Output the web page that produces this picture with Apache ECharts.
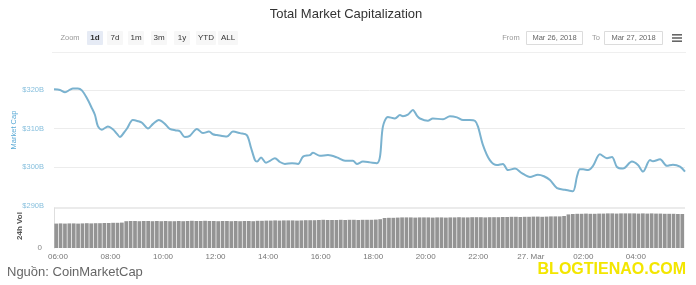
<!DOCTYPE html>
<html>
<head>
<meta charset="utf-8">
<title>Total Market Capitalization</title>
<script src="https://cdn.jsdelivr.net/npm/echarts@6/dist/echarts.min.js"></script>
<style>
  html, body { margin: 0; padding: 0; background: #fff; }
  #chart { width: 696px; height: 285px; }
</style>
</head>
<body>
<div id="chart"></div>
<script>
// time in hours since Mar 26 2018 00:00 (24 = 27 Mar 00:00)
const capTimes = [
  5.85, 6.08, 6.27, 6.46, 6.57, 6.76, 6.91, 7.10, 7.29, 7.41, 7.52, 7.67, 7.83, 7.90,
  8.09, 8.25, 8.36, 8.51, 8.63, 8.85, 9.05, 9.20, 9.43, 9.62, 9.84, 10.07, 10.26, 10.49,
  10.64, 10.83, 11.02, 11.29, 11.52, 11.75, 11.90, 12.05, 12.43, 12.66, 12.93, 13.19, 13.35,
  13.50, 13.58, 13.73, 13.92, 14.07, 14.26, 14.45, 14.64, 14.91, 15.14, 15.33, 15.59, 15.71,
  15.97, 16.28, 16.62, 16.93, 17.23, 17.38, 17.61, 17.88, 18.14, 18.26, 18.37, 18.56, 18.83,
  19.02, 19.13, 19.32, 19.51, 19.67, 19.78, 20.08, 20.27, 20.66, 20.92, 21.19, 21.42, 21.68,
  21.87, 21.99, 22.18, 22.44, 22.71, 22.94, 23.13, 23.40, 23.66, 23.97, 24.27, 24.50, 24.73,
  25.00, 25.30, 25.60, 25.76, 25.87, 25.99, 26.18, 26.37, 26.63, 26.90, 27.09, 27.28, 27.51,
  27.85, 28.08, 28.27, 28.54, 28.65, 28.92, 29.18, 29.41, 29.68, 29.87
]
// market cap, billions USD
const capValues = [
  320.2, 320.0, 319.4, 320.1, 320.4, 320.4, 319.9, 317.9, 315.3, 313.5, 310.6, 309.7, 310.3, 310.5,
  309.8, 308.6, 307.8, 308.9, 310.0, 312.2, 311.9, 311.5, 310.0, 311.2, 312.2, 311.2, 309.9, 309.5,
  309.3, 307.8, 308.1, 309.9, 308.8, 309.2, 308.5, 308.3, 307.9, 309.2, 308.8, 308.3, 305.0,
  301.8, 301.4, 302.5, 301.1, 301.6, 302.3, 301.3, 300.8, 301.0, 300.8, 302.7, 303.1, 303.7,
  302.9, 303.1, 302.5, 301.6, 301.6, 300.8, 301.4, 301.2, 301.0, 302.7, 310.5, 313.0, 312.6,
  313.5, 313.2, 313.6, 314.8, 313.3, 312.6, 312.0, 312.6, 312.4, 313.2, 312.9, 312.2, 312.2,
  312.0, 310.5, 305.7, 301.8, 300.5, 300.8, 299.2, 299.6, 298.4, 297.4, 298.0, 297.6, 296.6,
  294.5, 294.1, 293.7, 297.6, 299.4, 299.4, 299.2, 300.3, 303.3, 302.3, 302.6, 300.0, 299.6,
  301.4, 300.5, 298.8, 301.8, 301.5, 302.0, 300.3, 300.6, 300.1, 298.8
]
// 24h volume, billions USD, one bar per 10 minutes from 05:50
const volumes = [
  12.2, 12.3, 12.2, 12.3, 12.3, 12.2,
  12.3, 12.4, 12.3, 12.4, 12.4, 12.5,
  12.5, 12.6, 12.6, 12.7, 13.4, 13.5,
  13.5, 13.4, 13.5, 13.5, 13.4, 13.5,
  13.4, 13.5, 13.4, 13.4, 13.5, 13.4,
  13.5, 13.6, 13.5, 13.5, 13.6, 13.5,
  13.5, 13.4, 13.5, 13.5, 13.4, 13.5,
  13.4, 13.5, 13.5, 13.4, 13.6, 13.6,
  13.7, 13.7, 13.8, 13.7, 13.8, 13.8,
  13.8, 13.7, 13.8, 13.9, 13.9, 13.9,
  14.0, 14.1, 14.0, 14.0, 14.0, 14.1,
  14.0, 14.1, 14.1, 14.0, 14.1, 14.1,
  14.1, 14.2, 14.4, 15.0, 15.1, 15.1,
  15.2, 15.3, 15.3, 15.3, 15.2, 15.3,
  15.3, 15.3, 15.2, 15.3, 15.3, 15.2,
  15.3, 15.3, 15.4, 15.3, 15.3, 15.4,
  15.4, 15.4, 15.3, 15.4, 15.4, 15.4,
  15.5, 15.5, 15.6, 15.6, 15.5, 15.6,
  15.6, 15.7, 15.7, 15.6, 15.7, 15.8,
  15.8, 15.8, 16.0, 16.8, 17.0, 17.1,
  17.1, 17.2, 17.1, 17.1, 17.2, 17.2,
  17.3, 17.3, 17.2, 17.3, 17.3, 17.3,
  17.3, 17.2, 17.3, 17.2, 17.3, 17.2,
  17.2, 17.1, 17.1, 17.1, 17.0, 17.0
]
const xTicks = [6, 8, 10, 12, 14, 16, 18, 20, 22, 24, 26, 28]
const xTickLabels = ['06:00', '08:00', '10:00', '12:00', '14:00', '16:00', '18:00', '20:00', '22:00', '27. Mar', '02:00', '04:00']
const zoomButtons = ['1d', '7d', '1m', '3m', '1y', 'YTD', 'ALL']
const fromDate = 'Mar 26, 2018'
const toDate = 'Mar 27, 2018'

const xMin = 5.85
const xMax = 29.87
const volStart = 5.85
const volTimes = volumes.map((v, i) => volStart + (i + 0.5) / 6)

const capData = capTimes.map((t, i) => [t, capValues[i]])
const volData = volTimes.map((t, i) => [t, volumes[i]])

const font = '"Liberation Sans", Arial, sans-serif'
const btnX = [95, 115, 136, 159, 182, 206, 228]

const buttonGraphics = []
zoomButtons.forEach((b, i) => {
  const w = b.length > 2 ? 20 : 16
  buttonGraphics.push({
    type: 'rect',
    shape: { x: btnX[i] - w / 2, y: 31, width: w, height: 14, r: 1 },
    style: { fill: i === 0 ? '#e6ebf5' : '#f7f7f7' }
  })
  buttonGraphics.push({
    type: 'text',
    x: btnX[i], y: 38,
    style: {
      text: b, fill: '#333', font: (i === 0 ? 'bold ' : '') + '8px ' + font,
      align: 'center', verticalAlign: 'middle'
    }
  })
})

const chart = echarts.init(document.getElementById('chart'), null, { renderer: 'canvas' })

const option = {
  backgroundColor: '#fff',
  animation: false,
  grid: [
    { left: 54, right: 11, top: 74.6, bottom: 79.5 },
    { left: 54, right: 11, top: 208, bottom: 37 }
  ],
  xAxis: [
    {
      type: 'value', gridIndex: 0, min: xMin, max: xMax,
      axisLine: { show: false }, axisTick: { show: false },
      axisLabel: { show: false }, splitLine: { show: false }
    },
    {
      type: 'value', gridIndex: 1, min: xMin, max: xMax,
      axisLine: { show: false },
      axisTick: { show: false },
      splitLine: { show: false },
      axisLabel: {
        customValues: xTicks,
        color: '#777', fontSize: 8, fontFamily: font, margin: 5,
        formatter: (v) => xTickLabels[xTicks.indexOf(v)]
      }
    }
  ],
  yAxis: [
    {
      type: 'value', gridIndex: 0, min: 290, max: 324, interval: 10,
      axisLine: { show: false }, axisTick: { show: false },
      axisLabel: {
        color: '#86bfdd', fontSize: 7.5, fontFamily: font, margin: 10,
        showMaxLabel: false,
        formatter: (v) => '$' + v + 'B'
      },
      splitLine: { showMaxLine: false, showMinLine: false, lineStyle: { color: '#ececec', width: 1 } }
    },
    {
      type: 'value', gridIndex: 1, min: 0, max: 20, interval: 20,
      axisLine: { show: true, lineStyle: { color: '#dedede' } },
      axisTick: { show: false },
      axisLabel: {
        color: '#888', fontSize: 8, fontFamily: font, margin: 12,
        showMaxLabel: false
      },
      splitLine: { showMinLine: false, lineStyle: { color: '#e4e4e4', width: 1.5 } }
    }
  ],
  series: [
    {
      name: 'Market Cap',
      type: 'line',
      xAxisIndex: 0, yAxisIndex: 0,
      data: capData,
      smooth: 0.3,
      symbol: 'none',
      lineStyle: { color: '#7ab2cf', width: 2 }
    },
    {
      name: '24h Vol',
      type: 'bar',
      xAxisIndex: 1, yAxisIndex: 1,
      data: volData,
      barWidth: 3.7,
      itemStyle: { color: '#949494' }
    }
  ],
  graphic: [
    {
      type: 'text', x: 346, y: 14,
      style: { text: 'Total Market Capitalization', fill: '#333', font: '13px ' + font, align: 'center', verticalAlign: 'middle' }
    },
    {
      type: 'text', x: 70, y: 38,
      style: { text: 'Zoom', fill: '#999', font: '7.5px ' + font, align: 'center', verticalAlign: 'middle' }
    },
    ...buttonGraphics,
    {
      type: 'text', x: 511, y: 38,
      style: { text: 'From', fill: '#999', font: '7.5px ' + font, align: 'center', verticalAlign: 'middle' }
    },
    {
      type: 'rect', shape: { x: 526.5, y: 31.5, width: 56, height: 13 },
      style: { fill: '#fff', stroke: '#dcdcdc', lineWidth: 1 }
    },
    {
      type: 'text', x: 554.5, y: 38,
      style: { text: fromDate, fill: '#666', font: '7.5px ' + font, align: 'center', verticalAlign: 'middle' }
    },
    {
      type: 'text', x: 596, y: 38,
      style: { text: 'To', fill: '#999', font: '7.5px ' + font, align: 'center', verticalAlign: 'middle' }
    },
    {
      type: 'rect', shape: { x: 604.5, y: 31.5, width: 58, height: 13 },
      style: { fill: '#fff', stroke: '#dcdcdc', lineWidth: 1 }
    },
    {
      type: 'text', x: 633.5, y: 38,
      style: { text: toDate, fill: '#666', font: '7.5px ' + font, align: 'center', verticalAlign: 'middle' }
    },
    { type: 'rect', shape: { x: 672, y: 34, width: 10, height: 1.6 }, style: { fill: '#666' } },
    { type: 'rect', shape: { x: 672, y: 37.2, width: 10, height: 1.6 }, style: { fill: '#666' } },
    { type: 'rect', shape: { x: 672, y: 40.4, width: 10, height: 1.6 }, style: { fill: '#666' } },
    {
      type: 'line', shape: { x1: 52, y1: 52.5, x2: 686, y2: 52.5 },
      style: { stroke: '#efefef', lineWidth: 1 }
    },
    {
      type: 'text', x: 14, y: 130, rotation: Math.PI / 2,
      style: { text: 'Market Cap', fill: '#5aaad6', font: '7.5px ' + font, align: 'center', verticalAlign: 'middle' }
    },
    {
      type: 'text', x: 20, y: 226, rotation: Math.PI / 2,
      style: { text: '24h Vol', fill: '#555', font: 'bold 8px ' + font, align: 'center', verticalAlign: 'middle' }
    },
    {
      type: 'text', x: 7, y: 272,
      style: { text: 'Nguồn: CoinMarketCap', fill: '#666', font: '13px ' + font, align: 'left', verticalAlign: 'middle' }
    },
    {
      type: 'text', x: 686, y: 270,
      style: { text: 'BLOGTIENAO.COM', fill: '#f3e600', font: 'bold 16px ' + font, align: 'right', verticalAlign: 'middle' }
    }
  ]
}

chart.setOption(option)

window.addEventListener('resize', function () {
  chart && chart.resize()
})
</script>
</body>
</html>
